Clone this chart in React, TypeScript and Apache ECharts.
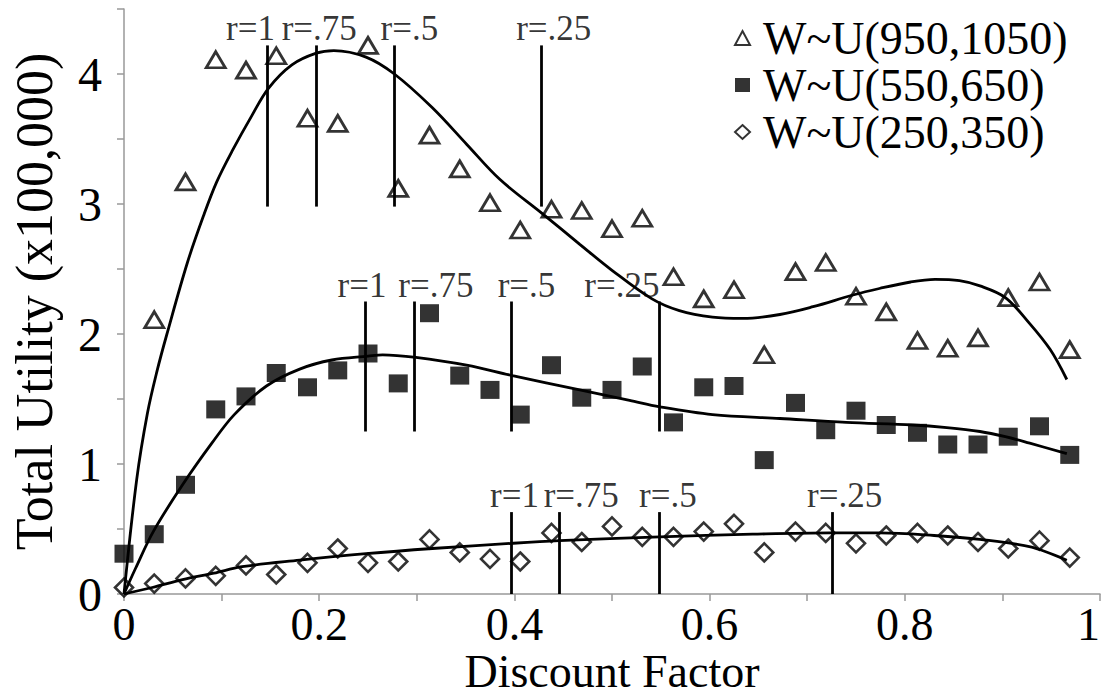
import React, { useEffect, useRef } from "react";
import * as echarts from "echarts";

// Discount factor positions of the simulated points
const X_POINTS = [0, 0.031, 0.063, 0.094, 0.125, 0.156, 0.188, 0.219, 0.25, 0.281, 0.313, 0.344, 0.375, 0.406, 0.438, 0.469, 0.5, 0.531, 0.563, 0.594, 0.625, 0.656, 0.688, 0.719, 0.75, 0.781, 0.813, 0.844, 0.875, 0.906, 0.938, 0.969];

// Total utility (x100,000)
const HIGH = [null, 2.11, 3.17, 4.11, 4.03, 4.14, 3.66, 3.62, 4.22, 3.12, 3.53, 3.27, 3.01, 2.8, 2.96, 2.95, 2.81, 2.89, 2.44, 2.27, 2.34, 1.84, 2.48, 2.55, 2.29, 2.17, 1.95, 1.89, 1.97, 2.28, 2.4, 1.88];
const MID = [0.31, 0.46, 0.84, 1.42, 1.52, 1.7, 1.59, 1.72, 1.85, 1.62, 2.16, 1.68, 1.57, 1.38, 1.76, 1.51, 1.57, 1.75, 1.32, 1.59, 1.6, 1.03, 1.47, 1.26, 1.41, 1.3, 1.24, 1.15, 1.15, 1.21, 1.29, 1.07];
const LOW = [0.05, 0.08, 0.12, 0.14, 0.22, 0.15, 0.24, 0.35, 0.24, 0.25, 0.42, 0.32, 0.27, 0.25, 0.47, 0.4, 0.52, 0.44, 0.44, 0.48, 0.54, 0.32, 0.48, 0.47, 0.39, 0.45, 0.47, 0.45, 0.4, 0.35, 0.41, 0.28];

const SERIES_NAMES = ["W~U(950,1050)", "W~U(550,650)", "W~U(250,350)"];

// Fitted curves
const FIT_HIGH_X = [0, 0.013, 0.024, 0.034, 0.044, 0.065, 0.082, 0.095, 0.111, 0.131, 0.148, 0.172, 0.197, 0.215, 0.248, 0.277, 0.316, 0.351, 0.385, 0.428, 0.467, 0.5, 0.541, 0.569, 0.603, 0.634, 0.672, 0.706, 0.747, 0.774, 0.806, 0.831, 0.856, 0.877, 0.903, 0.928, 0.949, 0.966];
const FIT_HIGH_Y = [0, 0.88, 1.39, 1.72, 2.0, 2.55, 2.92, 3.17, 3.41, 3.68, 3.89, 4.07, 4.16, 4.18, 4.13, 4.0, 3.74, 3.46, 3.19, 2.93, 2.69, 2.49, 2.27, 2.18, 2.13, 2.12, 2.15, 2.21, 2.3, 2.35, 2.4, 2.42, 2.41, 2.37, 2.28, 2.08, 1.88, 1.65];
const FIT_MID_X = [0, 0.012, 0.03, 0.06, 0.09, 0.113, 0.146, 0.18, 0.213, 0.25, 0.265, 0.299, 0.351, 0.398, 0.467, 0.518, 0.549, 0.603, 0.672, 0.74, 0.808, 0.843, 0.877, 0.903, 0.928, 0.966];
const FIT_MID_Y = [0, 0.2, 0.48, 0.84, 1.16, 1.38, 1.6, 1.73, 1.8, 1.83, 1.84, 1.82, 1.76, 1.68, 1.57, 1.49, 1.44, 1.38, 1.35, 1.32, 1.3, 1.28, 1.25, 1.21, 1.16, 1.08];
const FIT_LOW_X = [0, 0.029, 0.06, 0.092, 0.121, 0.18, 0.248, 0.316, 0.398, 0.446, 0.549, 0.644, 0.723, 0.774, 0.83, 0.877, 0.93, 0.966];
const FIT_LOW_Y = [0, 0.05, 0.11, 0.16, 0.21, 0.26, 0.31, 0.35, 0.39, 0.41, 0.44, 0.46, 0.47, 0.47, 0.45, 0.42, 0.36, 0.26];

// r markers (vertical lines)
const R_LABELS = ["r=1", "r=.75", "r=.5", "r=.25"];
const R_HIGH_X = [0.147, 0.197, 0.277, 0.428];
const R_HIGH_RANGE = [2.98, 4.22];
const R_MID_X = [0.247, 0.297, 0.397, 0.548];
const R_MID_RANGE = [1.25, 2.25];
const R_LOW_X = [0.397, 0.446, 0.548, 0.726];
const R_LOW_RANGE = [0, 0.63];

// label horizontal offsets (px)
const R_HIGH_DX = [-17, 3, 15, 12];
const R_MID_DX = [-3, 22, 15, -37];
const R_LOW_DX = [3, 22, 9, 12];

const FONT = "'Liberation Serif', 'Times New Roman', serif";
const INK = "#000";

function pairs(xs: number[], ys: (number | null)[]) {
  const out: number[][] = [];
  xs.forEach((x, i) => {
    const y = ys[i];
    if (y !== null && y !== undefined) out.push([x, y]);
  });
  return out;
}

function rSeries(name: string, xs: number[], range: number[], dx: number[]) {
  return {
    name,
    type: "scatter",
    symbolSize: 0,
    z: 4,
    silent: true,
    data: xs.map((x, i) => ({
      name: R_LABELS[i],
      value: [x, range[1]],
      label: { offset: [dx[i], 0] },
    })),
    label: {
      show: true,
      position: "top",
      distance: -1,
      formatter: "{b}",
      fontSize: 35,
      fontFamily: FONT,
      color: INK,
    },
    markLine: {
      silent: true,
      symbol: ["none", "none"],
      label: { show: false },
      lineStyle: { color: INK, width: 2.8, type: "solid" },
      data: xs.map((x) => [{ coord: [x, range[0]] }, { coord: [x, range[1]] }]),
    },
  };
}

function fitSeries(name: string, xs: number[], ys: number[]) {
  return {
    name,
    type: "line",
    smooth: 0.35,
    showSymbol: false,
    symbol: "none",
    z: 3,
    silent: true,
    lineStyle: { color: INK, width: 2.8 },
    data: pairs(xs, ys),
  };
}

export default function App() {
  const ref = useRef<HTMLDivElement>(null);
  useEffect(() => {
    if (!ref.current) return;
    const chart = echarts.init(ref.current, null, { renderer: "svg" });
    chart.setOption({
      animation: false,
      backgroundColor: "#fff",
      grid: { left: 124, right: 9, top: 9, bottom: 102, outerBoundsMode: "none", containLabel: false },
      legend: {
        orient: "vertical",
        left: 729,
        top: 10,
        itemWidth: 15,
        itemHeight: 14,
        itemGap: 1,
        data: SERIES_NAMES,
        selectedMode: false,
        formatter: "{t|{name}}",
        textStyle: {
          color: INK,
          padding: [0, 0, 0, 8],
          rich: {
            t: { fontFamily: FONT, fontSize: 46, lineHeight: 40, color: INK },
          },
        },
      },
      xAxis: {
        type: "value",
        min: 0,
        max: 1,
        interval: 0.1,
        name: "Discount Factor",
        nameLocation: "middle",
        nameGap: 54,
        nameMoveOverlap: false,
        nameTextStyle: { fontFamily: FONT, fontSize: 46, color: INK },
        axisLine: { show: true, lineStyle: { color: "#999", width: 1.5 } },
        axisTick: { show: true, length: 7, lineStyle: { color: "#999", width: 1.5 } },
        splitLine: { show: false },
        axisLabel: {
          margin: 7,
          fontFamily: FONT,
          fontSize: 46,
          color: INK,
          alignMaxLabel: "right",
          formatter: (v: number) => {
            const t = Math.round(v * 10);
            return t % 2 === 0 ? String(t / 10) : "";
          },
        },
      },
      yAxis: {
        type: "value",
        min: 0,
        max: 4.5,
        interval: 0.5,
        name: "Total Utility (x100,000)",
        nameLocation: "middle",
        nameGap: 64,
        nameMoveOverlap: false,
        nameTextStyle: { fontFamily: FONT, fontSize: 52, color: INK },
        axisLine: { show: true, lineStyle: { color: "#999", width: 1.5 } },
        axisTick: { show: true, length: 7, lineStyle: { color: "#999", width: 1.5 } },
        splitLine: { show: false },
        axisLabel: {
          margin: 22,
          fontFamily: FONT,
          fontSize: 48,
          color: INK,
          formatter: (v: number) => (Math.abs(v - Math.round(v)) < 1e-6 ? String(Math.round(v)) : ""),
        },
      },
      series: [
        {
          name: SERIES_NAMES[0],
          type: "scatter",
          symbol: "triangle",
          symbolSize: [19, 16],
          z: 2,
          itemStyle: { color: "#fff", borderColor: INK, borderWidth: 2.8 },
          data: pairs(X_POINTS, HIGH),
        },
        {
          name: SERIES_NAMES[1],
          type: "scatter",
          symbol: "rect",
          symbolSize: [19, 18],
          z: 2,
          itemStyle: { color: INK },
          data: pairs(X_POINTS, MID),
        },
        {
          name: SERIES_NAMES[2],
          type: "scatter",
          symbol: "diamond",
          symbolSize: [18, 18],
          z: 2,
          itemStyle: { color: "#fff", borderColor: INK, borderWidth: 2.6 },
          data: pairs(X_POINTS, LOW),
        },
        fitSeries("fitHigh", FIT_HIGH_X, FIT_HIGH_Y),
        fitSeries("fitMid", FIT_MID_X, FIT_MID_Y),
        fitSeries("fitLow", FIT_LOW_X, FIT_LOW_Y),
        rSeries("rHigh", R_HIGH_X, R_HIGH_RANGE, R_HIGH_DX),
        rSeries("rMid", R_MID_X, R_MID_RANGE, R_MID_DX),
        rSeries("rLow", R_LOW_X, R_LOW_RANGE, R_LOW_DX),
      ],
    });
    return () => chart.dispose();
  }, []);
  return (
    <div
      ref={ref}
      style={{ position: "fixed", left: 0, top: 0, width: 1109, height: 696, background: "#fff" }}
    />
  );
}
